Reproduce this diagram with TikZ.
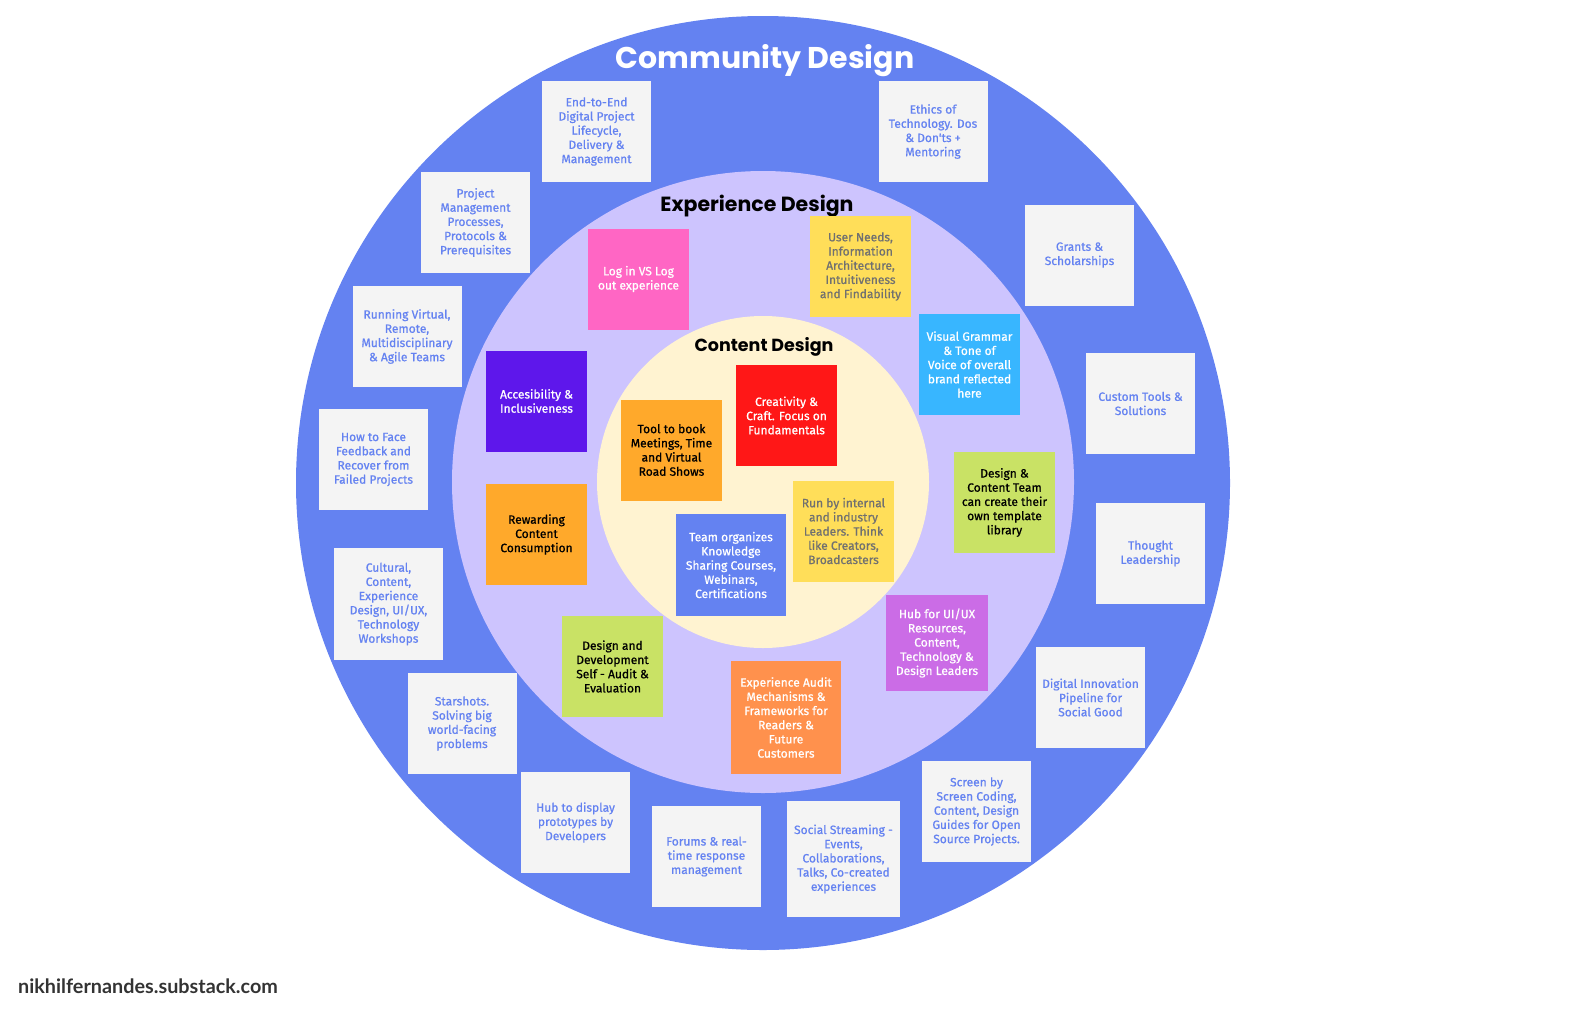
\documentclass[tikz,border=0pt]{standalone}
\usepackage{fontspec}
\usepackage{tikz}
\usetikzlibrary{positioning}
\newfontfamily\boxfont{Fira Sans}[FakeBold=0.8]
\newfontfamily\headfont{Poppins}
\newfontfamily\footfont{Lato}
\definecolor{ringblue}{RGB}{100,130,241}
\definecolor{lavender}{RGB}{205,196,254}
\definecolor{cream}{RGB}{255,243,209}
\definecolor{cardgray}{RGB}{244,244,244}
\definecolor{hotpink}{RGB}{255,102,196}
\definecolor{sunny}{RGB}{255,222,89}
\definecolor{skyblue}{RGB}{56,182,255}
\definecolor{lime}{RGB}{201,226,101}
\definecolor{amber}{RGB}{255,169,43}
\definecolor{tomato}{RGB}{255,23,23}
\definecolor{violet}{RGB}{94,23,235}
\definecolor{orchid}{RGB}{203,108,230}
\definecolor{tangerine}{RGB}{255,145,77}
\definecolor{dimtext}{RGB}{112,112,112}
\definecolor{foottext}{RGB}{51,51,51}

\begin{document}
\begin{tikzpicture}[x=1pt, y=-1pt,
  card/.style={fill=cardgray, text=ringblue, minimum width=109pt, minimum height=101pt,
    inner sep=0pt, align=center, font=\boxfont\fontsize{12}{14.2}\selectfont},
  tile/.style={fill=#1, minimum width=101pt, minimum height=101pt,
    inner sep=0pt, align=center, font=\boxfont\fontsize{12}{14.2}\selectfont},
  heading/.style={font=\headfont\bfseries\fontsize{#1}{#1}\selectfont}]

\useasboundingbox (0,0) rectangle (1578,1017);

% Ringe
\fill[ringblue] (763,483) circle (467);
\fill[lavender] (763,482) circle (311);
\fill[cream]    (763,482) circle (166);

% Titel
\node[heading=30, text=white] (community) at (765,61)  {Community Design};
\node[heading=20.5]           (experience) at (757,206) {Experience Design};
\node[heading=17.5]           (content)    at (764,347) {Content Design};

% Community Design
\node[card] (lifecycle) at (596.5,131.5) {End-to-End\\Digital Project\\Lifecycle,\\Delivery \&\\Management};
\node[card] (processes) at (475.5,222.5) {Project\\Management\\Processes,\\Protocols \&\\Prerequisites};
\node[card] (ethics)    at (933,131.5)   {Ethics of\\Technology. Dos\\\& Don'ts +\\Mentoring};
\node[card] (grants)    at (1079.5,255)  {Grants \&\\Scholarships};
\node[card] (remote)    at (407,336.5)   {Running Virtual,\\Remote,\\Multidisciplinary\\\& Agile Teams};
\node[card] (feedback)  at (373.5,459.5) {How to Face\\Feedback and\\Recover from\\Failed Projects};
\node[card] (tools)     at (1140.5,403.5) {Custom Tools \&\\Solutions};
\node[card] (thought)   at (1150.5,553.5) {Thought\\Leadership};
\node[card, minimum height=112pt] (workshops) at (388.5,604) {Cultural,\\Content,\\Experience\\Design, UI/UX,\\Technology\\Workshops};
\node[card] (starshots) at (462,723.5)   {Starshots.\\Solving big\\world-facing\\problems};
\node[card] (prototypes) at (575.5,822.5) {Hub to display\\prototypes by\\Developers};
\node[card] (forums)    at (706.5,856.5) {Forums \& real-\\time response\\management};
\node[card, minimum width=113pt, minimum height=116pt] (streaming) at (843.5,859) {Social Streaming -\\Events,\\Collaborations,\\Talks, Co-created\\experiences};
\node[card] (pipeline)  at (1090.5,697.5) {Digital Innovation\\Pipeline for\\Social Good};
\node[card] (guides)    at (976.5,811.5) {Screen by\\Screen Coding,\\Content, Design\\Guides for Open\\Source Projects.};

% Experience Design
\node[tile=hotpink, text=white]   (login)     at (638.5,279)   {Log in VS Log\\out experience};
\node[tile=sunny, text=dimtext]   (userneeds) at (860.5,266.5) {User Needs,\\Information\\Architecture,\\Intuitiveness\\and Findability};
\node[tile=skyblue, text=white]   (grammar)   at (969.5,364.5) {Visual Grammar\\\& Tone of\\Voice of overall\\brand reflected\\here};
\node[tile=lime, text=black]      (templates) at (1004.5,502.5) {Design \&\\Content Team\\can create their\\own template\\library};
\node[tile=violet, text=white]    (access)    at (536.5,401)   {Accesibility \&\\Inclusiveness};
\node[tile=amber, text=black]     (rewarding) at (536.5,534.5) {Rewarding\\Content\\Consumption};
\node[tile=lime, text=black]      (selfaudit) at (612.5,666.5) {Design and\\Development\\Self - Audit \&\\Evaluation};
\node[tile=tangerine, text=white, minimum width=110pt, minimum height=113pt] (expaudit) at (786,717.5) {Experience Audit\\Mechanisms \&\\Frameworks for\\Readers \&\\Future\\Customers};
\node[tile=orchid, text=white, minimum width=102pt, minimum height=96pt] (uxhub) at (937,643) {Hub for UI/UX\\Resources,\\Content,\\Technology \&\\Design Leaders};

% Content Design
\node[tile=amber, text=black]     (booking)    at (671.5,450)  {Tool to book\\Meetings, Time\\and Virtual\\Road Shows};
\node[tile=tomato, text=white]    (creativity) at (786.5,415.5) {Creativity \&\\Craft. Focus on\\Fundamentals};
\node[tile=ringblue, text=white, minimum width=110pt, minimum height=102pt] (courses) at (731,565) {Team organizes\\Knowledge\\Sharing Courses,\\Webinars,\\Certifications};
\node[tile=sunny, text=dimtext]   (leaders)    at (843.5,531)  {Run by internal\\and industry\\Leaders. Think\\like Creators,\\Broadcasters};

% Fusszeile
\node[anchor=west, text=foottext, font=\footfont\bfseries\fontsize{19.8}{22}\selectfont, inner sep=0pt] (site) at (18,986) {nikhilfernandes.substack.com};

\end{tikzpicture}
\end{document}
